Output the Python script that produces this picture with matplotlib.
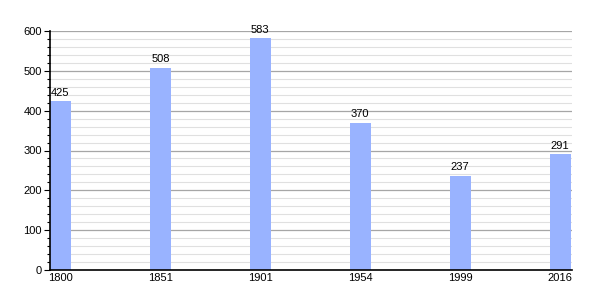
import matplotlib
matplotlib.use("Agg")
import matplotlib.pyplot as plt
import numpy as np

years = ["1800", "1851", "1901", "1954", "1999", "2016"]
population = [425, 508, 583, 370, 237, 291]

plt.rcParams['font.family'] = ['Liberation Sans', 'DejaVu Sans']
fig = plt.figure(figsize=(6, 3), dpi=100)
ax = fig.add_axes([50/600, 30/300, 522/600, 239/300])

x = np.arange(len(years))
w = 0.21
ax.set_ylim(0, 600)
ax.set_xlim(-w/2, len(years) - 1 + 0.12)

for y in range(20, 601, 20):
    if y % 100 == 0:
        ax.axhline(y, color='#a6a6a6', lw=0.9, zorder=1)
    else:
        ax.axhline(y, color='#e0e0e0', lw=0.8, zorder=1)

ax.bar(x, population, width=w, color='#99b3ff', zorder=2)
for xi, v in zip(x, population):
    ax.text(xi, v + 8, str(v), ha='center', va='bottom', fontsize=8, color='black', zorder=3)

ax.set_xticks(x)
ax.set_xticklabels(years, fontsize=8)
ax.tick_params(axis='x', length=0, pad=2)
ax.set_yticks(range(0, 601, 100))
ax.set_yticks(range(0, 601, 20), minor=True)
ax.tick_params(axis='y', labelsize=8, length=4, width=0.8, pad=2)
ax.tick_params(axis='y', which='minor', length=2, width=0.8)
for s in ['top', 'right']:
    ax.spines[s].set_visible(False)
ax.spines['left'].set_linewidth(1.2)
ax.spines['bottom'].set_linewidth(1.2)

fig.savefig('out.png', dpi=100)
